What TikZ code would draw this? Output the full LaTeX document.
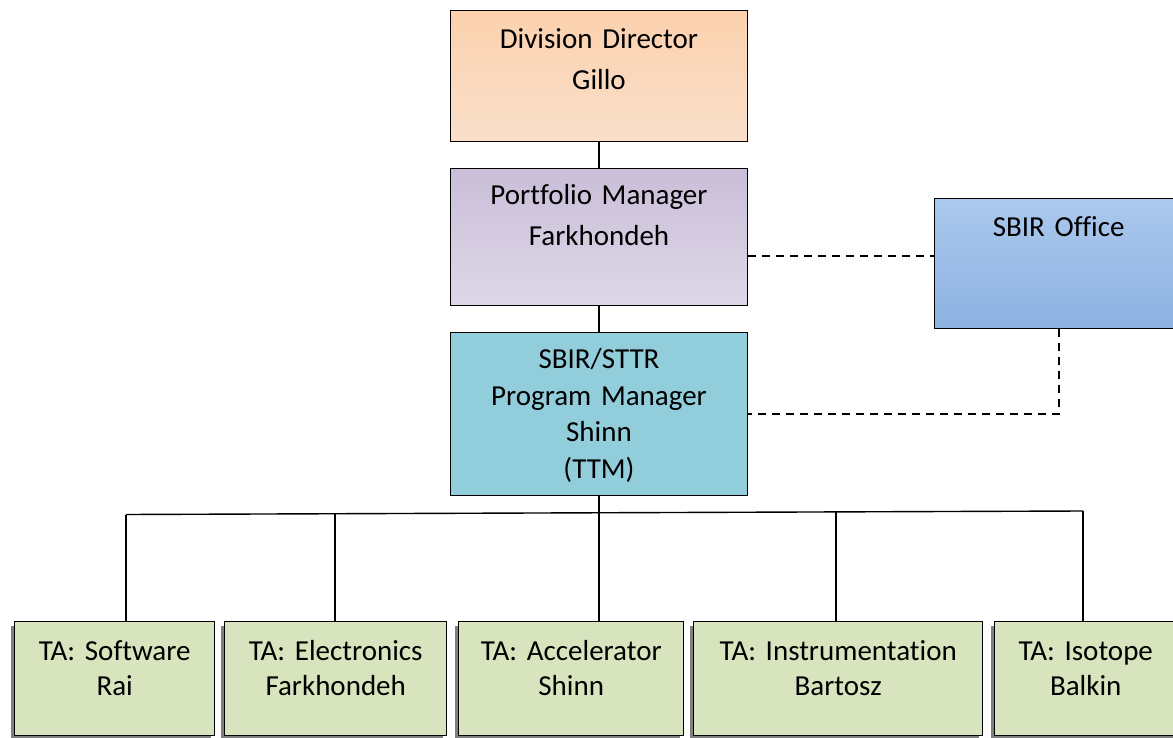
\documentclass[tikz,border=0pt]{standalone}
\usepackage{fontspec}
\setmainfont{Carlito}[Ligatures=NoCommon]
\usepackage{xcolor}
\usepackage{tikz}
\usetikzlibrary{positioning, shadows, calc}
\definecolor{dirtop}{RGB}{251,209,174}
\definecolor{dirbot}{RGB}{250,223,202}
\definecolor{pfmtop}{RGB}{202,190,216}
\definecolor{pfmbot}{RGB}{222,215,232}
\definecolor{offtop}{RGB}{171,200,237}
\definecolor{offbot}{RGB}{140,178,225}
\definecolor{sbirblue}{RGB}{146,205,220}
\definecolor{tagreen}{RGB}{215,228,189}
\tikzstyle{box} = [rectangle, draw, line width=0.7pt, text centered, inner sep=0pt, font=\fontsize{14.5}{20.5}\selectfont]
\tikzstyle{tabox} = [box, fill=tagreen, text height=19.5pt, text depth=37.5pt, font=\fontsize{14.5}{17.5}\selectfont, drop shadow={shadow xshift=-2pt, shadow yshift=-2pt, fill=black!50, opacity=1}]
\tikzstyle{wire} = [draw, line width=0.7pt]
\tikzstyle{link} = [draw, line width=1pt, dash pattern=on 4pt off 3pt]

\begin{document}
\begin{tikzpicture}[x=0.5pt, y=-0.5pt]
        \useasboundingbox (0,0) rectangle (1173,738);
        % Nodes
        \node (director) [box, anchor=north, top color=dirtop, bottom color=dirbot, text width=148.5pt, text height=19pt, text depth=46.5pt] at (599,10) {Division Director\\Gillo};
        \node (portfolio) [box, below=12.8pt of director, top color=pfmtop, bottom color=pfmbot, text width=148.5pt, text height=18pt, text depth=50.5pt] {Portfolio Manager\\Farkhondeh};
        \node (pm) [box, below=12.8pt of portfolio, fill=sbirblue, text width=148.5pt, text height=18pt, text depth=63.5pt, font=\fontsize{14.5}{18.3}\selectfont] {SBIR/STTR\\Program Manager\\Shinn\\(TTM)};
        \node (office) [box, anchor=north west, top color=offtop, bottom color=offbot, text width=124pt, text height=19pt, text depth=46pt] at (934,198) {SBIR Office};

        \node (ta1) [tabox, anchor=north west, text width=100pt] at (14,621) {TA: Software\\Rai};
        \node (ta2) [tabox, right=4.3pt of ta1, text width=111pt] {TA: Electronics\\Farkhondeh};
        \node (ta3) [tabox, right=5.3pt of ta2, text width=112.5pt] {TA: Accelerator\\Shinn};
        \node (ta4) [tabox, right=4.3pt of ta3, text width=144.5pt] {TA: Instrumentation\\Bartosz};
        \node (ta5) [tabox, right=5.3pt of ta4, text width=91pt] {TA: Isotope\\Balkin};

        % Bus
        \coordinate (d1) at (126,514.5);
        \coordinate (d2) at (335,513.5);
        \coordinate (d3) at (599,512.5);
        \coordinate (d4) at (836,511.5);
        \coordinate (d5) at (1083,511);

        % Edges
        \path [wire] (director) -- (portfolio);
        \path [wire] (portfolio) -- (pm);
        \path [wire] (pm) -- (d3);
        \path [wire] (d1) -- (d5);
        \foreach \i in {1,...,5}
            \path [wire] (d\i) -- (d\i |- ta\i.north);

        \path [link] ([yshift=-9.25pt]portfolio.east) -- ([yshift=-9.25pt]portfolio.east -| office.west);
        \path [link] (office) |- (pm);

    \end{tikzpicture}
\end{document}
